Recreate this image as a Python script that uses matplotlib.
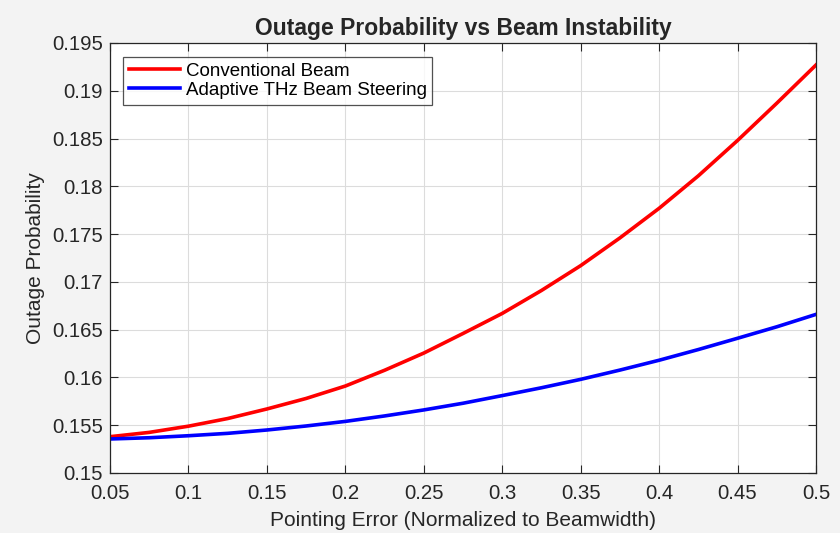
import matplotlib
matplotlib.use("Agg")
import matplotlib.pyplot as plt

# pointing error (normalized to beamwidth)
pointing_err = [0.05, 0.075, 0.10, 0.125, 0.15, 0.175, 0.20, 0.225, 0.25, 0.275,
                0.30, 0.325, 0.35, 0.375, 0.40, 0.425, 0.45, 0.475, 0.50]
# outage probability
p_conventional = [0.1538, 0.15425, 0.1549, 0.1557, 0.1567, 0.1578, 0.1591, 0.16075, 0.16255, 0.1646,
                  0.1667, 0.1691, 0.1717, 0.1746, 0.1777, 0.1811, 0.1848, 0.1887, 0.1927]
p_adaptive = [0.15356, 0.15369, 0.1539, 0.15415, 0.1545, 0.15492, 0.1554, 0.15597, 0.1566, 0.1573,
              0.1581, 0.15892, 0.1598, 0.16077, 0.1618, 0.16292, 0.1641, 0.1653, 0.1666]

xticks = [0.05, 0.1, 0.15, 0.2, 0.25, 0.3, 0.35, 0.4, 0.45, 0.5]
yticks = [0.15, 0.155, 0.16, 0.165, 0.17, 0.175, 0.18, 0.185, 0.19, 0.195]

plt.rcParams['font.family'] = ['Liberation Sans', 'DejaVu Sans']

fig = plt.figure(figsize=(8.4, 5.33), dpi=100, facecolor='#f3f3f3')
ax = fig.add_axes([110/840, 1 - 473/533, (816-110)/840, (473-43)/533])
ax.set_facecolor('white')

ax.plot(pointing_err, p_conventional, color='#ff0000', lw=2.6, label='Conventional Beam')
ax.plot(pointing_err, p_adaptive, color='#0000ff', lw=2.6, label='Adaptive THz Beam Steering')

ax.set_xlim(0.05, 0.5)
ax.set_ylim(0.15, 0.195)
ax.set_xticks(xticks)
ax.set_xticklabels([f'{v:g}' for v in xticks])
ax.set_yticks(yticks)
ax.set_yticklabels([f'{v:g}' for v in yticks])
ax.tick_params(direction='in', length=6, width=0.8, labelsize=14.7, colors='#262626',
               top=True, right=True, pad=5)
ax.tick_params(axis='x', pad=8)
ax.grid(True, color='#dcdcdc', lw=0.8)
for s in ax.spines.values():
    s.set_color('#262626')
    s.set_linewidth(0.9)

ax.set_xlabel('Pointing Error (Normalized to Beamwidth)', fontsize=15, color='#262626', labelpad=6)
ax.set_ylabel('Outage Probability', fontsize=15, color='#262626', labelpad=5)
ax.set_title('Outage Probability vs Beam Instability', fontsize=16.5, fontweight='bold',
             color='#262626', pad=6)

leg = ax.legend(loc='upper left', bbox_to_anchor=(0.0185, 0.968), fontsize=13.5,
                frameon=True, fancybox=False, edgecolor='#262626', handlelength=2.75,
                handletextpad=0.3, borderpad=0.3, labelspacing=0.12, borderaxespad=0)
leg.get_frame().set_linewidth(0.9)

fig.savefig('out.png', dpi=100, facecolor=fig.get_facecolor())
